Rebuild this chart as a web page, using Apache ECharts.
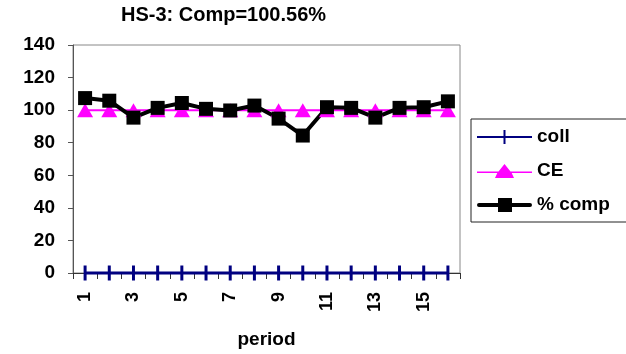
<!DOCTYPE html>
<html>
<head>
<meta charset="utf-8">
<script src="https://cdn.jsdelivr.net/npm/echarts@6/dist/echarts.min.js"></script>
<style>
html,body{margin:0;padding:0;background:#fff;}
#chart{width:626px;height:354px;}
</style>
</head>
<body>
<div id="chart"></div>
<script>
const periods = ['1','2','3','4','5','6','7','8','9','10','11','12','13','14','15','16'];
const coll = [0,0,0,0,0,0,0,0,0,0,0,0,0,0,0,0];
const ce = [100,100,100,100,100,100,100,100,100,100,100,100,100,100,100,100];
const comp = [107.4,105.8,95.4,101.4,104.4,100.8,99.8,102.8,94.8,84.4,101.8,101.4,95.4,101.4,101.8,105.4];
const titleText = 'HS-3: Comp=100.56%';

const FONT = '"Liberation Sans", Arial, sans-serif';
// legend icons drawn in a 55x14 box: line + marker
const iconColl = 'path://M0,6L26.5,6L26.5,0L28.5,0L28.5,6L55,6L55,8L28.5,8L28.5,14L26.5,14L26.5,8L0,8Z';
const iconCE = 'path://M0,7.5L21.5,7.5L27.5,0L33.5,7.5L55,7.5L55,9L34.7,9L37,14L18,14L20.3,9L0,9Z';
const iconComp = 'path://M2,5L21,5L21,0L35,0L35,5L53,5A2,2 0 0 1 53,9L35,9L35,14L21,14L21,9L2,9A2,2 0 0 1 2,5Z';

const chart = echarts.init(document.getElementById('chart'), null, {renderer:'canvas'});
chart.setOption({
  animation: false,
  backgroundColor: '#fff',
  textStyle: {fontFamily: FONT},
  title: {
    text: titleText,
    left: 116, top: 0,
    textStyle: {fontFamily: FONT, fontWeight: 'bold', fontSize: 20, color: '#000'}
  },
  legend: {
    left: 471, top: 119,
    orient: 'vertical',
    padding: [8, 40, 7, 6],
    itemWidth: 55, itemHeight: 14, itemGap: 14,
    borderColor: '#222', borderWidth: 1,
    backgroundColor: '#fff',
    symbolKeepAspect: false,
    textStyle: {fontFamily: FONT, fontWeight: 'bold', fontSize: 19, color: '#000', lineHeight: 20},
    data: [
      {name: 'coll', icon: iconColl, itemStyle: {color: '#000080'}},
      {name: 'CE', icon: iconCE, itemStyle: {color: '#FF00FF'}},
      {name: '% comp', icon: iconComp, itemStyle: {color: '#000'}}
    ]
  },
  grid: {left: 73, right: 166, top: 45, bottom: 77, show: true, borderColor: '#888', borderWidth: 1, backgroundColor: '#fff'},
  xAxis: {
    type: 'category',
    data: periods,
    boundaryGap: true,
    name: 'period',
    nameLocation: 'middle',
    nameGap: 57,
    nameTextStyle: {fontFamily: FONT, fontWeight: 'bold', fontSize: 19, color: '#000'},
    axisLine: {lineStyle: {color: '#333', width: 1}},
    axisTick: {show: true, length: 6, alignWithLabel: false, interval: 0, lineStyle: {color: '#333'}},
    axisLabel: {interval: 1, rotate: 90, margin: 19, fontFamily: FONT, fontWeight: 'bold', fontSize: 18, color: '#000'},
    splitLine: {show: false}
  },
  yAxis: {
    type: 'value',
    min: 0, max: 140, interval: 20,
    axisLine: {show: true, lineStyle: {color: '#555', width: 1}},
    axisTick: {show: true, length: 5, lineStyle: {color: '#555'}},
    axisLabel: {margin: 18, fontFamily: FONT, fontWeight: 'bold', fontSize: 19, color: '#000'},
    splitLine: {show: false}
  },
  series: [
    {
      name: 'coll', type: 'line', data: coll,
      clip: false, z: 5,
      symbol: 'rect', symbolSize: [3, 15],
      lineStyle: {color: '#000080', width: 3},
      itemStyle: {color: '#000080'}
    },
    {
      name: 'CE', type: 'line', data: ce,
      symbol: 'triangle', symbolSize: [16, 14],
      lineStyle: {color: '#FF00FF', width: 2},
      itemStyle: {color: '#FF00FF'}
    },
    {
      name: '% comp', type: 'line', data: comp,
      symbol: 'rect', symbolSize: 14,
      lineStyle: {color: '#000', width: 4},
      itemStyle: {color: '#000'}
    }
  ]
});
</script>
</body>
</html>
